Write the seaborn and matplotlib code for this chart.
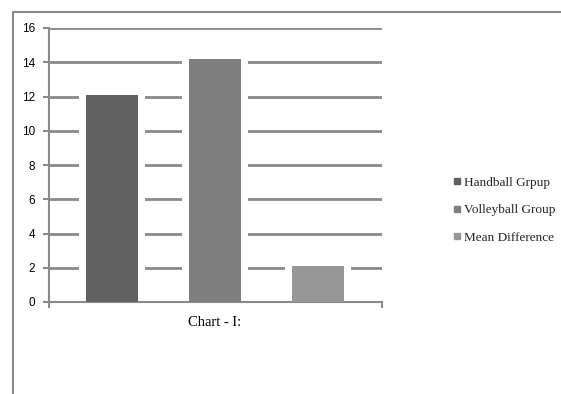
import matplotlib
matplotlib.use("Agg")
import matplotlib.pyplot as plt
import seaborn as sns
from matplotlib.lines import Line2D

# chart data
groups = ["Handball Grpup", "Volleyball Group", "Mean Difference"]
values = [12.1, 14.2, 2.1]
bar_colors = ["#616161", "#7f7f7f", "#979797"]
y_ticks = [0, 2, 4, 6, 8, 10, 12, 14, 16]

sns.set_theme(style="white")
plt.rcParams["font.family"] = ["Liberation Sans", "DejaVu Sans"]

fig = plt.figure(figsize=(5.61, 3.94), dpi=100)
ax = fig.add_axes([49 / 561, 1 - 302 / 394, (382 - 49) / 561, (302 - 28) / 394])

# white halo behind each bar interrupts the gridlines, like the original
sns.barplot(x=groups, y=values, hue=groups, palette=["white"] * 3, width=0.64,
            legend=False, ax=ax, zorder=2, saturation=1)
sns.barplot(x=groups, y=values, hue=groups, palette=bar_colors, width=0.5,
            legend=False, ax=ax, zorder=3, saturation=1)
for p in ax.patches:
    p.set_linewidth(0)

ax.set_ylim(0, 16)
ax.set_xlim(-0.61, 2.62)
ax.set_yticks(y_ticks)
ax.set_yticklabels([str(t) for t in y_ticks], fontsize=8.5, color="black")
ax.set_xticks([-0.61, 2.62])
ax.set_xticklabels(["", ""])
ax.set_xlabel("")
ax.set_ylabel("")
ax.yaxis.grid(True, color="#8a8a8a", linewidth=2)
ax.set_axisbelow(True)
for spine in ["top", "right"]:
    ax.spines[spine].set_visible(False)
for spine in ["left", "bottom"]:
    ax.spines[spine].set_color("#8a8a8a")
    ax.spines[spine].set_linewidth(1.5)
ax.tick_params(axis="y", length=4, width=1.5, color="#8a8a8a", direction="out", left=True, pad=6)
ax.tick_params(axis="x", length=4, width=1.5, color="#8a8a8a", direction="out", bottom=True)

# title below the plot
fig.text(215 / 561, 1 - 323 / 394, "Chart - I:", family=["Liberation Serif"], fontsize=10.5,
         ha="center", va="center", color="black")

# legend on the right
handles = [Line2D([], [], marker="s", linestyle="", markersize=4, color=c) for c in bar_colors]
fig.legend(handles, groups, loc="center left", bbox_to_anchor=(439 / 561, 1 - 210 / 394),
           frameon=False, prop={"family": "Liberation Serif", "size": 9.5},
           handletextpad=0.0, labelspacing=1.15, handlelength=1.0)

# outer chart frame (clipped at right and bottom)
fig.add_artist(Line2D([13 / 561, 13 / 561], [0, 1 - 12 / 394], transform=fig.transFigure,
                      color="#8a8a8a", linewidth=1.5))
fig.add_artist(Line2D([13 / 561, 1], [1 - 12 / 394, 1 - 12 / 394], transform=fig.transFigure,
                      color="#8a8a8a", linewidth=1.5))

fig.savefig("out.png", dpi=100)
